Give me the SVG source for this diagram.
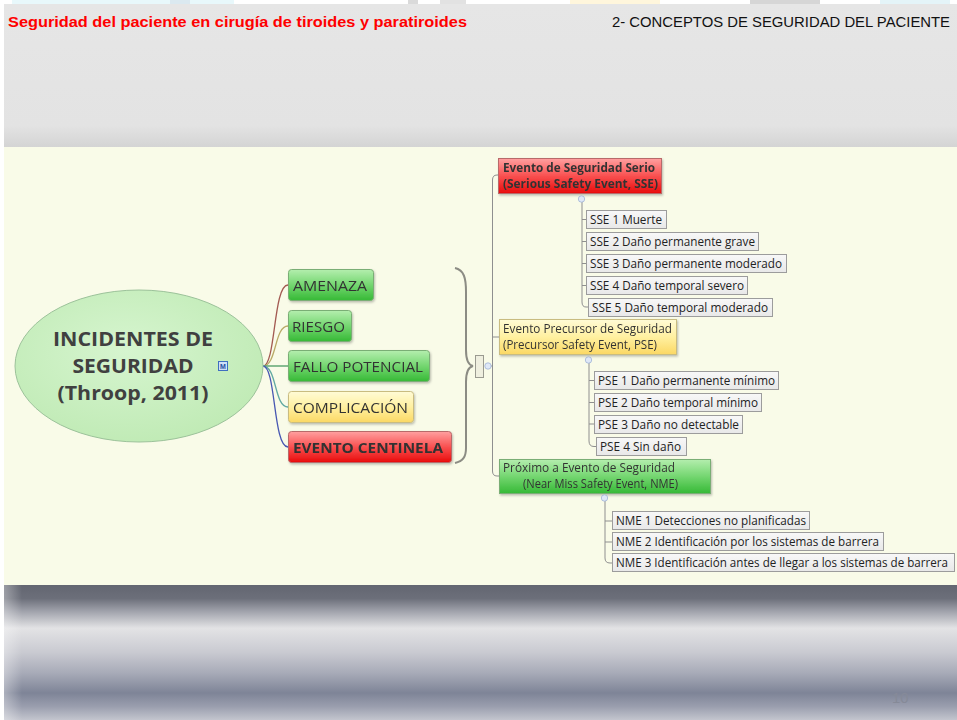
<svg xmlns="http://www.w3.org/2000/svg" width="957" height="720" viewBox="0 0 957 720">
  <defs>
    <linearGradient id="hdr" x1="0" y1="0" x2="0" y2="1">
      <stop offset="0" stop-color="#e6e6e6"/>
      <stop offset="0.85" stop-color="#e3e3e3"/>
      <stop offset="1" stop-color="#d4d4d4"/>
    </linearGradient>
    <linearGradient id="foot" x1="0" y1="585" x2="0" y2="720" gradientUnits="userSpaceOnUse">
      <stop offset="0" stop-color="#636671"/>
      <stop offset="0.1" stop-color="#6c6f7a"/>
      <stop offset="0.2" stop-color="#a3a5ae"/>
      <stop offset="0.32" stop-color="#e3e3e5"/>
      <stop offset="0.5" stop-color="#c9cad1"/>
      <stop offset="0.65" stop-color="#a8abb8"/>
      <stop offset="0.8" stop-color="#7e8497"/>
      <stop offset="0.9" stop-color="#9a9eae"/>
      <stop offset="1" stop-color="#c3c5ce"/>
    </linearGradient>
    <linearGradient id="footL" x1="0" y1="0" x2="1" y2="0">
      <stop offset="0" stop-color="#ffffff" stop-opacity="0.35"/>
      <stop offset="1" stop-color="#ffffff" stop-opacity="0"/>
    </linearGradient>
    <linearGradient id="green" x1="0" y1="0" x2="0" y2="1">
      <stop offset="0" stop-color="#b4eeae"/>
      <stop offset="0.5" stop-color="#74d670"/>
      <stop offset="1" stop-color="#36b936"/>
    </linearGradient>
    <linearGradient id="yellow" x1="0" y1="0" x2="0" y2="1">
      <stop offset="0" stop-color="#fffbd6"/>
      <stop offset="0.5" stop-color="#fff0a0"/>
      <stop offset="1" stop-color="#fbd864"/>
    </linearGradient>
    <linearGradient id="red" x1="0" y1="0" x2="0" y2="1">
      <stop offset="0" stop-color="#ffa0a0"/>
      <stop offset="0.5" stop-color="#f95050"/>
      <stop offset="1" stop-color="#e80c0c"/>
    </linearGradient>
    <linearGradient id="leaf" x1="0" y1="0" x2="0" y2="1">
      <stop offset="0" stop-color="#f8f8f8"/>
      <stop offset="1" stop-color="#e8e8e8"/>
    </linearGradient>
    <radialGradient id="oval" cx="0.45" cy="0.4" r="0.65">
      <stop offset="0" stop-color="#d6f5cf"/>
      <stop offset="1" stop-color="#bfeab4"/>
    </radialGradient>
    <filter id="shadow" x="-10%" y="-20%" width="125%" height="150%">
      <feDropShadow dx="1" dy="1.5" stdDeviation="1" flood-color="#000" flood-opacity="0.25"/>
    </filter>
    <style>
      .t { font-family: "Liberation Sans", Arial, sans-serif; }
      .m { font-family: "Open Sans", "Liberation Sans", sans-serif; }
      .hd { font-size: 15px; }
      .main { font-size: 19.5px; font-weight: bold; fill: #404040; text-anchor: middle; }
      .br { font-size: 15px; fill: #333; }
      .mid { font-size: 12px; fill: #333; }
      .leaf { font-size: 12px; fill: #222; }
      .box { stroke-width: 1; }
      .gbox { fill: url(#green); stroke: #7aae74; }
      .ybox { fill: url(#yellow); stroke: #c9bc80; }
      .rbox { fill: url(#red); stroke: #b86a6a; }
      .lbox { fill: url(#leaf); stroke: #9c9c9c; }
      .conn { fill: none; stroke: #8f8f8f; stroke-width: 1; }
      .btn { fill: #dfe8f7; stroke: #9fb3d6; stroke-width: 0.8; }
    </style>
  </defs>

  <!-- page background -->
  <rect x="0" y="0" width="957" height="720" fill="#ffffff"/>
  <!-- faint strip at the very top -->
  <rect x="12" y="0" width="222" height="4" fill="#e8f8fb"/>
  <rect x="170" y="0" width="20" height="4" fill="#dbe9f0"/>
  <rect x="408" y="0" width="10" height="4" fill="#dadada"/>
  <rect x="440" y="0" width="26" height="4" fill="#e2e2e2"/>
  <rect x="570" y="0" width="90" height="4" fill="#fff6dc"/>
  <rect x="750" y="0" width="70" height="4" fill="#d6d6d6"/>
  <rect x="880" y="0" width="70" height="4" fill="#e4f4f8"/>

  <!-- header band -->
  <rect x="4" y="4" width="953" height="143" fill="url(#hdr)"/>
  <text class="t hd" x="8" y="27" fill="#ff0000" font-weight="bold" textLength="459" lengthAdjust="spacingAndGlyphs">Seguridad del paciente en cirugía de tiroides y paratiroides</text>
  <text class="t hd" x="612" y="27" fill="#111111" textLength="338" lengthAdjust="spacingAndGlyphs">2- CONCEPTOS DE SEGURIDAD DEL PACIENTE</text>

  <!-- map canvas -->
  <rect x="4" y="147" width="953" height="438" fill="#f9fbe8"/>

  <!-- footer band -->
  <rect x="4" y="585" width="953" height="135" fill="url(#foot)"/>
  <rect x="4" y="585" width="18" height="135" fill="url(#footL)"/>
  <text class="t" x="892" y="703" font-size="15" fill="#868a98">10</text>

  <!-- connectors -->
  <g id="connectors">
    <!-- central topic to first-level branches -->
    <path d="M263,366 C276,366 273,285 288,285" fill="none" stroke="#a35a52" stroke-width="1.3"/>
    <path d="M263,366 C277,366 274,326 288,326" fill="none" stroke="#b9aa66" stroke-width="1.3"/>
    <path d="M263,366 L288,366" fill="none" stroke="#4a9a62" stroke-width="1.3"/>
    <path d="M263,366 C277,366 274,407 288,407" fill="none" stroke="#62aaa2" stroke-width="1.3"/>
    <path d="M263,366 C276,366 273,447 288,447" fill="none" stroke="#4858b2" stroke-width="1.3"/>

    <!-- brace grouping the branches -->
    <path d="M455,268 C464,270 466,278 466,292 L466,350 C466,360 468,365 473,366 C468,367 466,372 466,382 L466,448 C466,457 463,461 455,463" fill="none" stroke="#8c8c84" stroke-width="2"/>

    <!-- trunk to the three event categories -->
    <path class="conn" d="M498,175 L497,175 Q492.5,175 492.5,180 L492.5,471 Q492.5,476 497,476 L499,476"/>
    <path class="conn" d="M492.5,337 L499,337"/>
    <path class="conn" d="M488,366 L492.5,366"/>

    <!-- SSE leaves -->
    <path class="conn" d="M582,202 L582,302 Q582,307 586,307 L588,307"/>
    <path class="conn" d="M582,219.5 L586,219.5 M582,241.5 L586,241.5 M582,263.5 L586,263.5 M582,285.5 L586,285.5"/>

    <!-- PSE leaves -->
    <path class="conn" d="M589,363 L589,441 Q589,446.5 594,446.5 L596,446.5"/>
    <path class="conn" d="M589,380.5 L594,380.5 M589,402.5 L594,402.5 M589,424 L594,424"/>

    <!-- NME leaves -->
    <path class="conn" d="M605,501 L605,558 Q605,563 610,563 L612,563"/>
    <path class="conn" d="M605,521 L612,521 M605,542 L612,542"/>
  </g>

  <!-- central topic -->
  <g id="central">
    <ellipse cx="139" cy="366" rx="124" ry="76" fill="url(#oval)" stroke="#9cc29a" stroke-width="1"/>
    <text class="m main" x="133" y="346" textLength="160" lengthAdjust="spacingAndGlyphs">INCIDENTES DE</text>
    <text class="m main" x="133" y="373" textLength="121" lengthAdjust="spacingAndGlyphs">SEGURIDAD</text>
    <text class="m main" x="133" y="400" textLength="151" lengthAdjust="spacingAndGlyphs">(Throop, 2011)</text>
    <rect x="218.5" y="361.5" width="9" height="9" fill="#cfe0f8" stroke="#3f6fc0" stroke-width="1"/>
    <text class="t" x="223" y="369" font-size="7" font-weight="bold" fill="#1f4fa0" text-anchor="middle">M</text>
  </g>

  <!-- first-level branches -->
  <g id="amenaza" filter="url(#shadow)">
    <rect class="box gbox" x="288.5" y="269.5" width="85" height="31" rx="3"/>
    <text class="m br" x="293" y="291" textLength="74" lengthAdjust="spacingAndGlyphs">AMENAZA</text>
  </g>
  <g id="riesgo" filter="url(#shadow)">
    <rect class="box gbox" x="288.5" y="310.5" width="63" height="31" rx="3"/>
    <text class="m br" x="292" y="332" textLength="53" lengthAdjust="spacingAndGlyphs">RIESGO</text>
  </g>
  <g id="fallo-potencial" filter="url(#shadow)">
    <rect class="box gbox" x="288.5" y="350.5" width="141" height="31" rx="3"/>
    <text class="m br" x="293" y="372" textLength="130" lengthAdjust="spacingAndGlyphs">FALLO POTENCIAL</text>
  </g>
  <g id="complicacion" filter="url(#shadow)">
    <rect class="box ybox" x="288.5" y="391.5" width="125" height="31" rx="3"/>
    <text class="m br" x="293" y="413" textLength="115" lengthAdjust="spacingAndGlyphs">COMPLICACIÓN</text>
  </g>
  <g id="evento-centinela" filter="url(#shadow)">
    <rect class="box rbox" x="288.5" y="431.5" width="163" height="31" rx="3"/>
    <text class="m br" x="293" y="453" font-weight="bold" fill="#2a2a2a" textLength="150" lengthAdjust="spacingAndGlyphs">EVENTO CENTINELA</text>
  </g>

  <!-- summary placeholder and collapse button -->
  <g id="summary">
    <rect x="475.5" y="355.5" width="8" height="22" fill="#efefdf" stroke="#9a9a90" stroke-width="1"/>
    <circle class="btn" cx="488" cy="366" r="3.2"/>
  </g>

  <!-- Serious Safety Event -->
  <g id="sse" filter="url(#shadow)">
    <rect class="box rbox" x="498.5" y="158.5" width="163" height="35"/>
    <text class="m mid" x="503" y="172" font-weight="bold" fill="#2a2020" textLength="152" lengthAdjust="spacingAndGlyphs">Evento de Seguridad Serio</text>
    <text class="m mid" x="503" y="188" font-weight="bold" fill="#2a2020" textLength="155" lengthAdjust="spacingAndGlyphs">(Serious Safety Event, SSE)</text>
  </g>
  <g id="sse-btn"><circle class="btn" cx="581.5" cy="199" r="3.2"/></g>
  <g id="sse1"><rect class="box lbox" x="586.5" y="210.5" width="80" height="18"/><text class="m leaf" x="590" y="224" textLength="72" lengthAdjust="spacingAndGlyphs">SSE 1 Muerte</text></g>
  <g id="sse2"><rect class="box lbox" x="586.5" y="232.5" width="172" height="18"/><text class="m leaf" x="590" y="246" textLength="165" lengthAdjust="spacingAndGlyphs">SSE 2 Daño permanente grave</text></g>
  <g id="sse3"><rect class="box lbox" x="586.5" y="254.5" width="200" height="18"/><text class="m leaf" x="590" y="268" textLength="192" lengthAdjust="spacingAndGlyphs">SSE 3 Daño permanente moderado</text></g>
  <g id="sse4"><rect class="box lbox" x="586.5" y="276.5" width="161" height="18"/><text class="m leaf" x="590" y="290" textLength="154" lengthAdjust="spacingAndGlyphs">SSE 4 Daño temporal severo</text></g>
  <g id="sse5"><rect class="box lbox" x="588.5" y="298.5" width="184" height="18"/><text class="m leaf" x="592" y="312" textLength="176" lengthAdjust="spacingAndGlyphs">SSE 5 Daño temporal moderado</text></g>

  <!-- Precursor Safety Event -->
  <g id="pse" filter="url(#shadow)">
    <rect class="box ybox" x="499.5" y="319.5" width="177" height="35"/>
    <text class="m mid" x="503" y="333" textLength="169" lengthAdjust="spacingAndGlyphs">Evento Precursor de Seguridad</text>
    <text class="m mid" x="503" y="349" textLength="154" lengthAdjust="spacingAndGlyphs">(Precursor Safety Event, PSE)</text>
  </g>
  <g id="pse-btn"><circle class="btn" cx="588.5" cy="360" r="3.2"/></g>
  <g id="pse1"><rect class="box lbox" x="594.5" y="371.5" width="184" height="18"/><text class="m leaf" x="598" y="385" textLength="177" lengthAdjust="spacingAndGlyphs">PSE 1 Daño permanente mínimo</text></g>
  <g id="pse2"><rect class="box lbox" x="594.5" y="393.5" width="167" height="18"/><text class="m leaf" x="598" y="407" textLength="160" lengthAdjust="spacingAndGlyphs">PSE 2 Daño temporal mínimo</text></g>
  <g id="pse3"><rect class="box lbox" x="594.5" y="415.5" width="148" height="18"/><text class="m leaf" x="598" y="429" textLength="141" lengthAdjust="spacingAndGlyphs">PSE 3 Daño no detectable</text></g>
  <g id="pse4"><rect class="box lbox" x="596.5" y="437.5" width="90" height="18"/><text class="m leaf" x="600" y="451" textLength="81" lengthAdjust="spacingAndGlyphs">PSE 4 Sin daño</text></g>

  <!-- Near Miss Safety Event -->
  <g id="nme" filter="url(#shadow)">
    <rect class="box gbox" x="499.5" y="459.5" width="211" height="34"/>
    <text class="m mid" x="503" y="472" textLength="172" lengthAdjust="spacingAndGlyphs">Próximo a Evento de Seguridad</text>
    <text class="m mid" x="523" y="488" textLength="155" lengthAdjust="spacingAndGlyphs">(Near Miss Safety Event, NME)</text>
  </g>
  <g id="nme-btn"><circle class="btn" cx="604.5" cy="498" r="3.2"/></g>
  <g id="nme1"><rect class="box lbox" x="612.5" y="511.5" width="197" height="18"/><text class="m leaf" x="616" y="525" textLength="190" lengthAdjust="spacingAndGlyphs">NME 1 Detecciones no planificadas</text></g>
  <g id="nme2"><rect class="box lbox" x="612.5" y="532.5" width="271" height="18"/><text class="m leaf" x="616" y="546" textLength="263" lengthAdjust="spacingAndGlyphs">NME 2 Identificación por los sistemas de barrera</text></g>
  <g id="nme3"><rect class="box lbox" x="612.5" y="553.5" width="342" height="18"/><text class="m leaf" x="616" y="567" font-size="11.4" textLength="332" lengthAdjust="spacingAndGlyphs">NME 3 Identificación antes de llegar a los sistemas de barrera</text></g>
</svg>
